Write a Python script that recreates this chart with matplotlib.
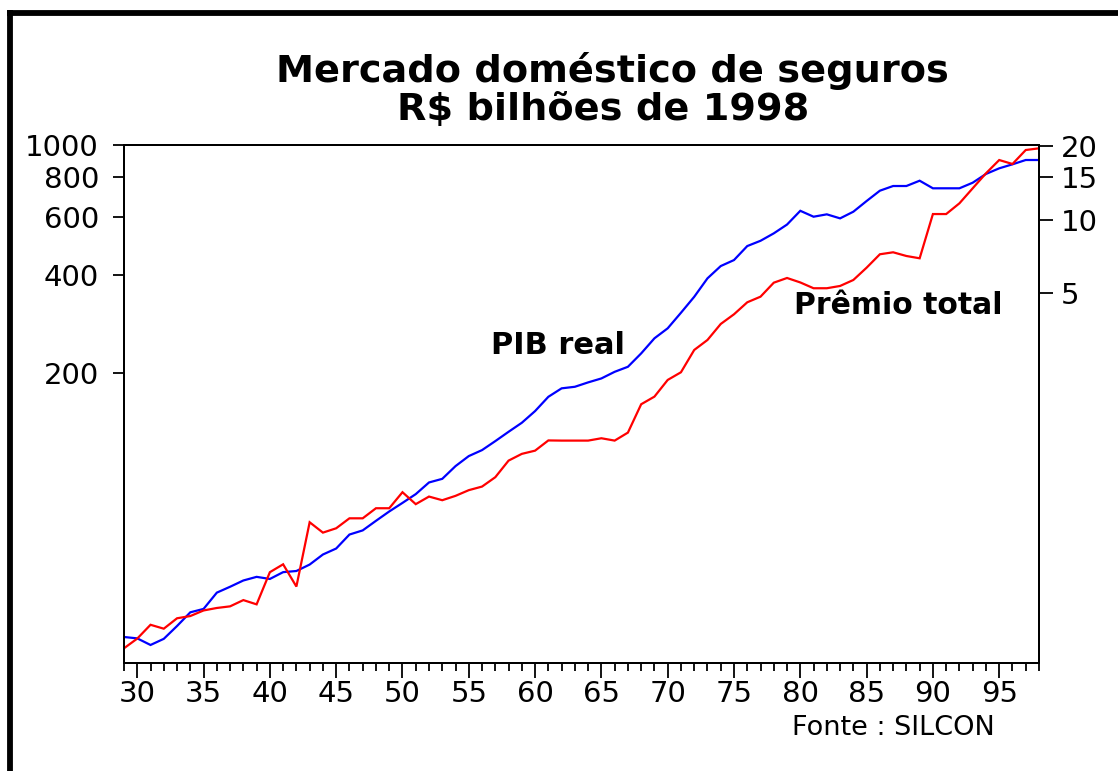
import matplotlib
matplotlib.use("Agg")
import matplotlib.pyplot as plt
from matplotlib.lines import Line2D
from matplotlib.ticker import FixedLocator, MultipleLocator, FuncFormatter, NullLocator

# ---------------- data ----------------
years = list(range(1929, 1999))

pib_real = [31.0, 30.7, 29.3, 30.6, 33.5, 36.9, 37.8, 42.4, 44.2, 46.2,
            47.4, 46.7, 49.0, 49.4, 51.7, 55.5, 57.9, 63.9, 65.8, 70.4,
            75.2, 79.9, 85.0, 92.3, 94.7, 103.6, 111.2, 116.0, 123.6, 132.0,
            140.7, 152.8, 169.0, 179.4, 181.4, 187.1, 192.4, 201.6, 208.9, 229.6,
            255.4, 274.1, 305.9, 342.4, 390.1, 425.4, 443.8, 489.9, 508.5, 535.9,
            570.3, 628.4, 602.7, 612.9, 595.7, 624.4, 673.3, 724.2, 748.6, 748.6,
            777.2, 736.6, 736.6, 736.6, 766.3, 815.1, 848.2, 872.5, 899.5, 899.5]

premio_total = [0.178, 0.195, 0.222, 0.214, 0.236, 0.241, 0.254, 0.260, 0.264, 0.280,
                0.269, 0.364, 0.392, 0.318, 0.582, 0.528, 0.550, 0.604, 0.604, 0.664,
                0.664, 0.772, 0.690, 0.741, 0.716, 0.746, 0.787, 0.814, 0.889, 1.039,
                1.107, 1.141, 1.256, 1.254, 1.254, 1.254, 1.282, 1.254, 1.352, 1.765,
                1.896, 2.218, 2.384, 2.940, 3.230, 3.754, 4.112, 4.602, 4.852, 5.534,
                5.784, 5.546, 5.252, 5.252, 5.366, 5.676, 6.372, 7.228, 7.364, 7.112,
                6.960, 10.55, 10.55, 11.67, 13.44, 15.47, 17.53, 16.89, 19.26, 19.57]

left_ticks = [200, 400, 600, 800, 1000]
right_ticks = [5, 10, 15, 20]
x_major = list(range(1930, 1999, 5))

title_lines = ["Mercado doméstico de seguros", "R$ bilhões de 1998"]
label_pib = "PIB real"
label_premio = "Prêmio total"
source_text = "Fonte : SILCON"

# ---------------- figure ----------------
W, H = 1118, 771
fig = plt.figure(figsize=(W / 100, H / 100), dpi=100)
fig.patch.set_facecolor("white")

def fx(px):
    return px / W

def fy(py):
    return 1 - py / H

ax_left, ax_right, ax_top, ax_bot = 124, 1039, 145, 663
ax = fig.add_axes([fx(ax_left), fy(ax_bot), (ax_right - ax_left) / W, (ax_bot - ax_top) / H])
ax2 = ax.twinx()

tick_font = dict(family="DejaVu Sans", size=21)

ax.plot(years, pib_real, color="#0000FF", lw=1.6, solid_joinstyle="miter")
ax2.plot(years, premio_total, color="#FF0000", lw=1.6, solid_joinstyle="miter")

ax.set_yscale("log")
ax.set_ylim(25.8, 1000)
ax.yaxis.set_major_locator(FixedLocator(left_ticks))
ax.yaxis.set_minor_locator(NullLocator())
ax.yaxis.set_major_formatter(FuncFormatter(lambda v, p: f"{v:g}"))

ax2.set_yscale("log")
ax2.set_ylim(0.155, 20.19)
ax2.yaxis.set_major_locator(FixedLocator(right_ticks))
ax2.yaxis.set_minor_locator(NullLocator())
ax2.yaxis.set_major_formatter(FuncFormatter(lambda v, p: f"{v:g}"))

ax.set_xlim(1929, 1998)
ax.xaxis.set_major_locator(FixedLocator(x_major))
ax.xaxis.set_minor_locator(MultipleLocator(1))
ax.xaxis.set_major_formatter(FuncFormatter(lambda v, p: f"{int(round(v)) % 100:02d}"))

for a in (ax, ax2):
    for s in a.spines.values():
        s.set_linewidth(1.4)
        s.set_color("black")

ax.tick_params(axis="x", which="major", direction="out", length=11, width=1.3, pad=1)
ax.tick_params(axis="x", which="minor", direction="out", length=6, width=1.3)
ax.tick_params(axis="y", which="major", direction="out", length=8, width=1.3, pad=10)
ax2.tick_params(axis="y", which="major", direction="out", length=10, width=1.3, pad=6)
for lab in ax.get_xticklabels() + ax.get_yticklabels() + ax2.get_yticklabels():
    lab.set_fontfamily(tick_font["family"])
    lab.set_fontsize(tick_font["size"])

# ---------------- texts ----------------
fig.text(fx(612), fy(82), title_lines[0], ha="center", va="baseline",
         fontsize=27.5, fontweight="bold", family="DejaVu Sans")
fig.text(fx(603), fy(120), title_lines[1], ha="center", va="baseline",
         fontsize=27.5, fontweight="bold", family="DejaVu Sans")
fig.text(fx(558), fy(354), label_pib, ha="center", va="baseline",
         fontsize=22, fontweight="bold", family="DejaVu Sans")
fig.text(fx(898), fy(314), label_premio, ha="center", va="baseline",
         fontsize=21.5, fontweight="bold", family="DejaVu Sans")
fig.text(fx(893), fy(735), source_text, ha="center", va="baseline",
         fontsize=19.5, family="DejaVu Sans")

# outer frame (top and left edges visible)
fig.add_artist(Line2D([fx(7), fx(W + 5)], [fy(12.5), fy(12.5)], color="black", lw=4.2,
                      solid_capstyle="butt"))
fig.add_artist(Line2D([fx(10), fx(10)], [fy(10), fy(H + 5)], color="black", lw=4.2,
                      solid_capstyle="butt"))

fig.savefig("out.png", dpi=100, facecolor="white")
